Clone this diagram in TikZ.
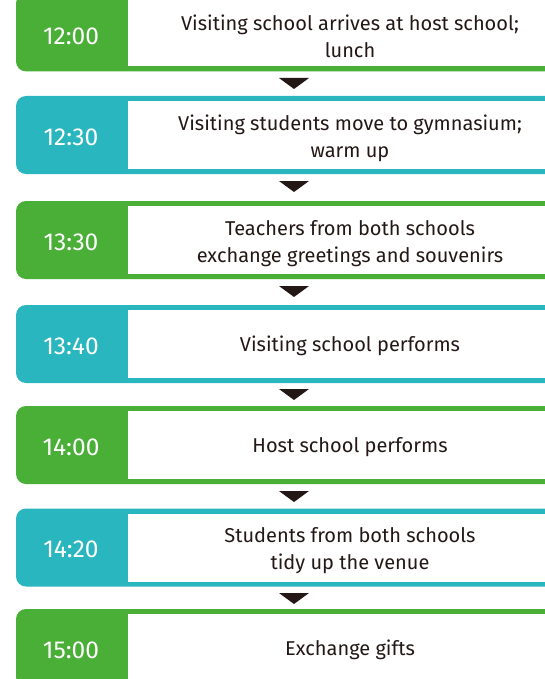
\documentclass[tikz,border=0pt]{standalone}
\usepackage{fontspec}
\setmainfont{Fira Sans}
\definecolor{leaf}{HTML}{4AAF37}
\definecolor{lagoon}{HTML}{29B6BE}
\definecolor{ink}{HTML}{231815}
\begin{document}
\begin{tikzpicture}[x=1pt, y=-1pt,
    row/.style={rectangle, rounded corners=10pt, minimum width=560pt, minimum height=78pt, inner sep=0pt},
    slot/.style={rectangle, fill=white, minimum width=443pt, minimum height=68pt, inner sep=0pt},
    desc/.style={text=ink, inner sep=0pt, align=center, font=\fontsize{20}{27}\selectfont},
    time/.style={text=white, inner sep=0pt, font=\fontsize{24.5}{28}\selectfont}]
            \useasboundingbox (0,0) rectangle (545,679);
            % rows
            \node[row, fill=leaf] (r1) at (296,32.4) {};
            \node[slot] (s1) at (349.5,32.4) {};
            \node[desc] (d1) at (350,36) {Visiting school arrives at host school;\\lunch};
            \node[time] (t1) at (71,36) {12:00};

            \node[row, fill=lagoon] (r2) at (296,135) {};
            \node[slot] (s2) at (349.5,135) {};
            \node[desc] (d2) at (350,138.5) {Visiting students move to gymnasium;\\warm up};
            \node[time] (t2) at (71,137) {12:30};

            \node[row, fill=leaf] (r3) at (296,240) {};
            \node[slot] (s3) at (349.5,240) {};
            \node[desc] (d3) at (350,243.5) {Teachers from both schools\\exchange greetings and souvenirs};
            \node[time] (t3) at (71,242) {13:30};

            \node[row, fill=lagoon] (r4) at (296,344) {};
            \node[slot] (s4) at (349.5,344) {};
            \node[desc] (d4) at (350,346) {Visiting school performs};
            \node[time] (t4) at (71,346) {13:40};

            \node[row, fill=leaf] (r5) at (296,445) {};
            \node[slot] (s5) at (349.5,445) {};
            \node[desc] (d5) at (350,447) {Host school performs};
            \node[time] (t5) at (71,447) {14:00};

            \node[row, fill=lagoon] (r6) at (296,547.5) {};
            \node[slot] (s6) at (349.5,547.5) {};
            \node[desc] (d6) at (350,551) {Students from both schools\\tidy up the venue};
            \node[time] (t6) at (71,549.5) {14:20};

            \node[row, fill=leaf] (r7) at (296,648) {};
            \node[slot] (s7) at (349.5,648) {};
            \node[desc] (d7) at (350,650) {Exchange gifts};
            \node[time] (t7) at (71,650) {15:00};

            % arrows between rows
            \fill[ink] (279,78) -- (309,78) -- (294,89) -- cycle;
            \fill[ink] (279,181) -- (309,181) -- (294,192) -- cycle;
            \fill[ink] (279,286) -- (309,286) -- (294,297) -- cycle;
            \fill[ink] (279,389) -- (309,389) -- (294,400) -- cycle;
            \fill[ink] (279,491) -- (309,491) -- (294,502) -- cycle;
            \fill[ink] (279,593) -- (309,593) -- (294,604) -- cycle;
\end{tikzpicture}
\end{document}
